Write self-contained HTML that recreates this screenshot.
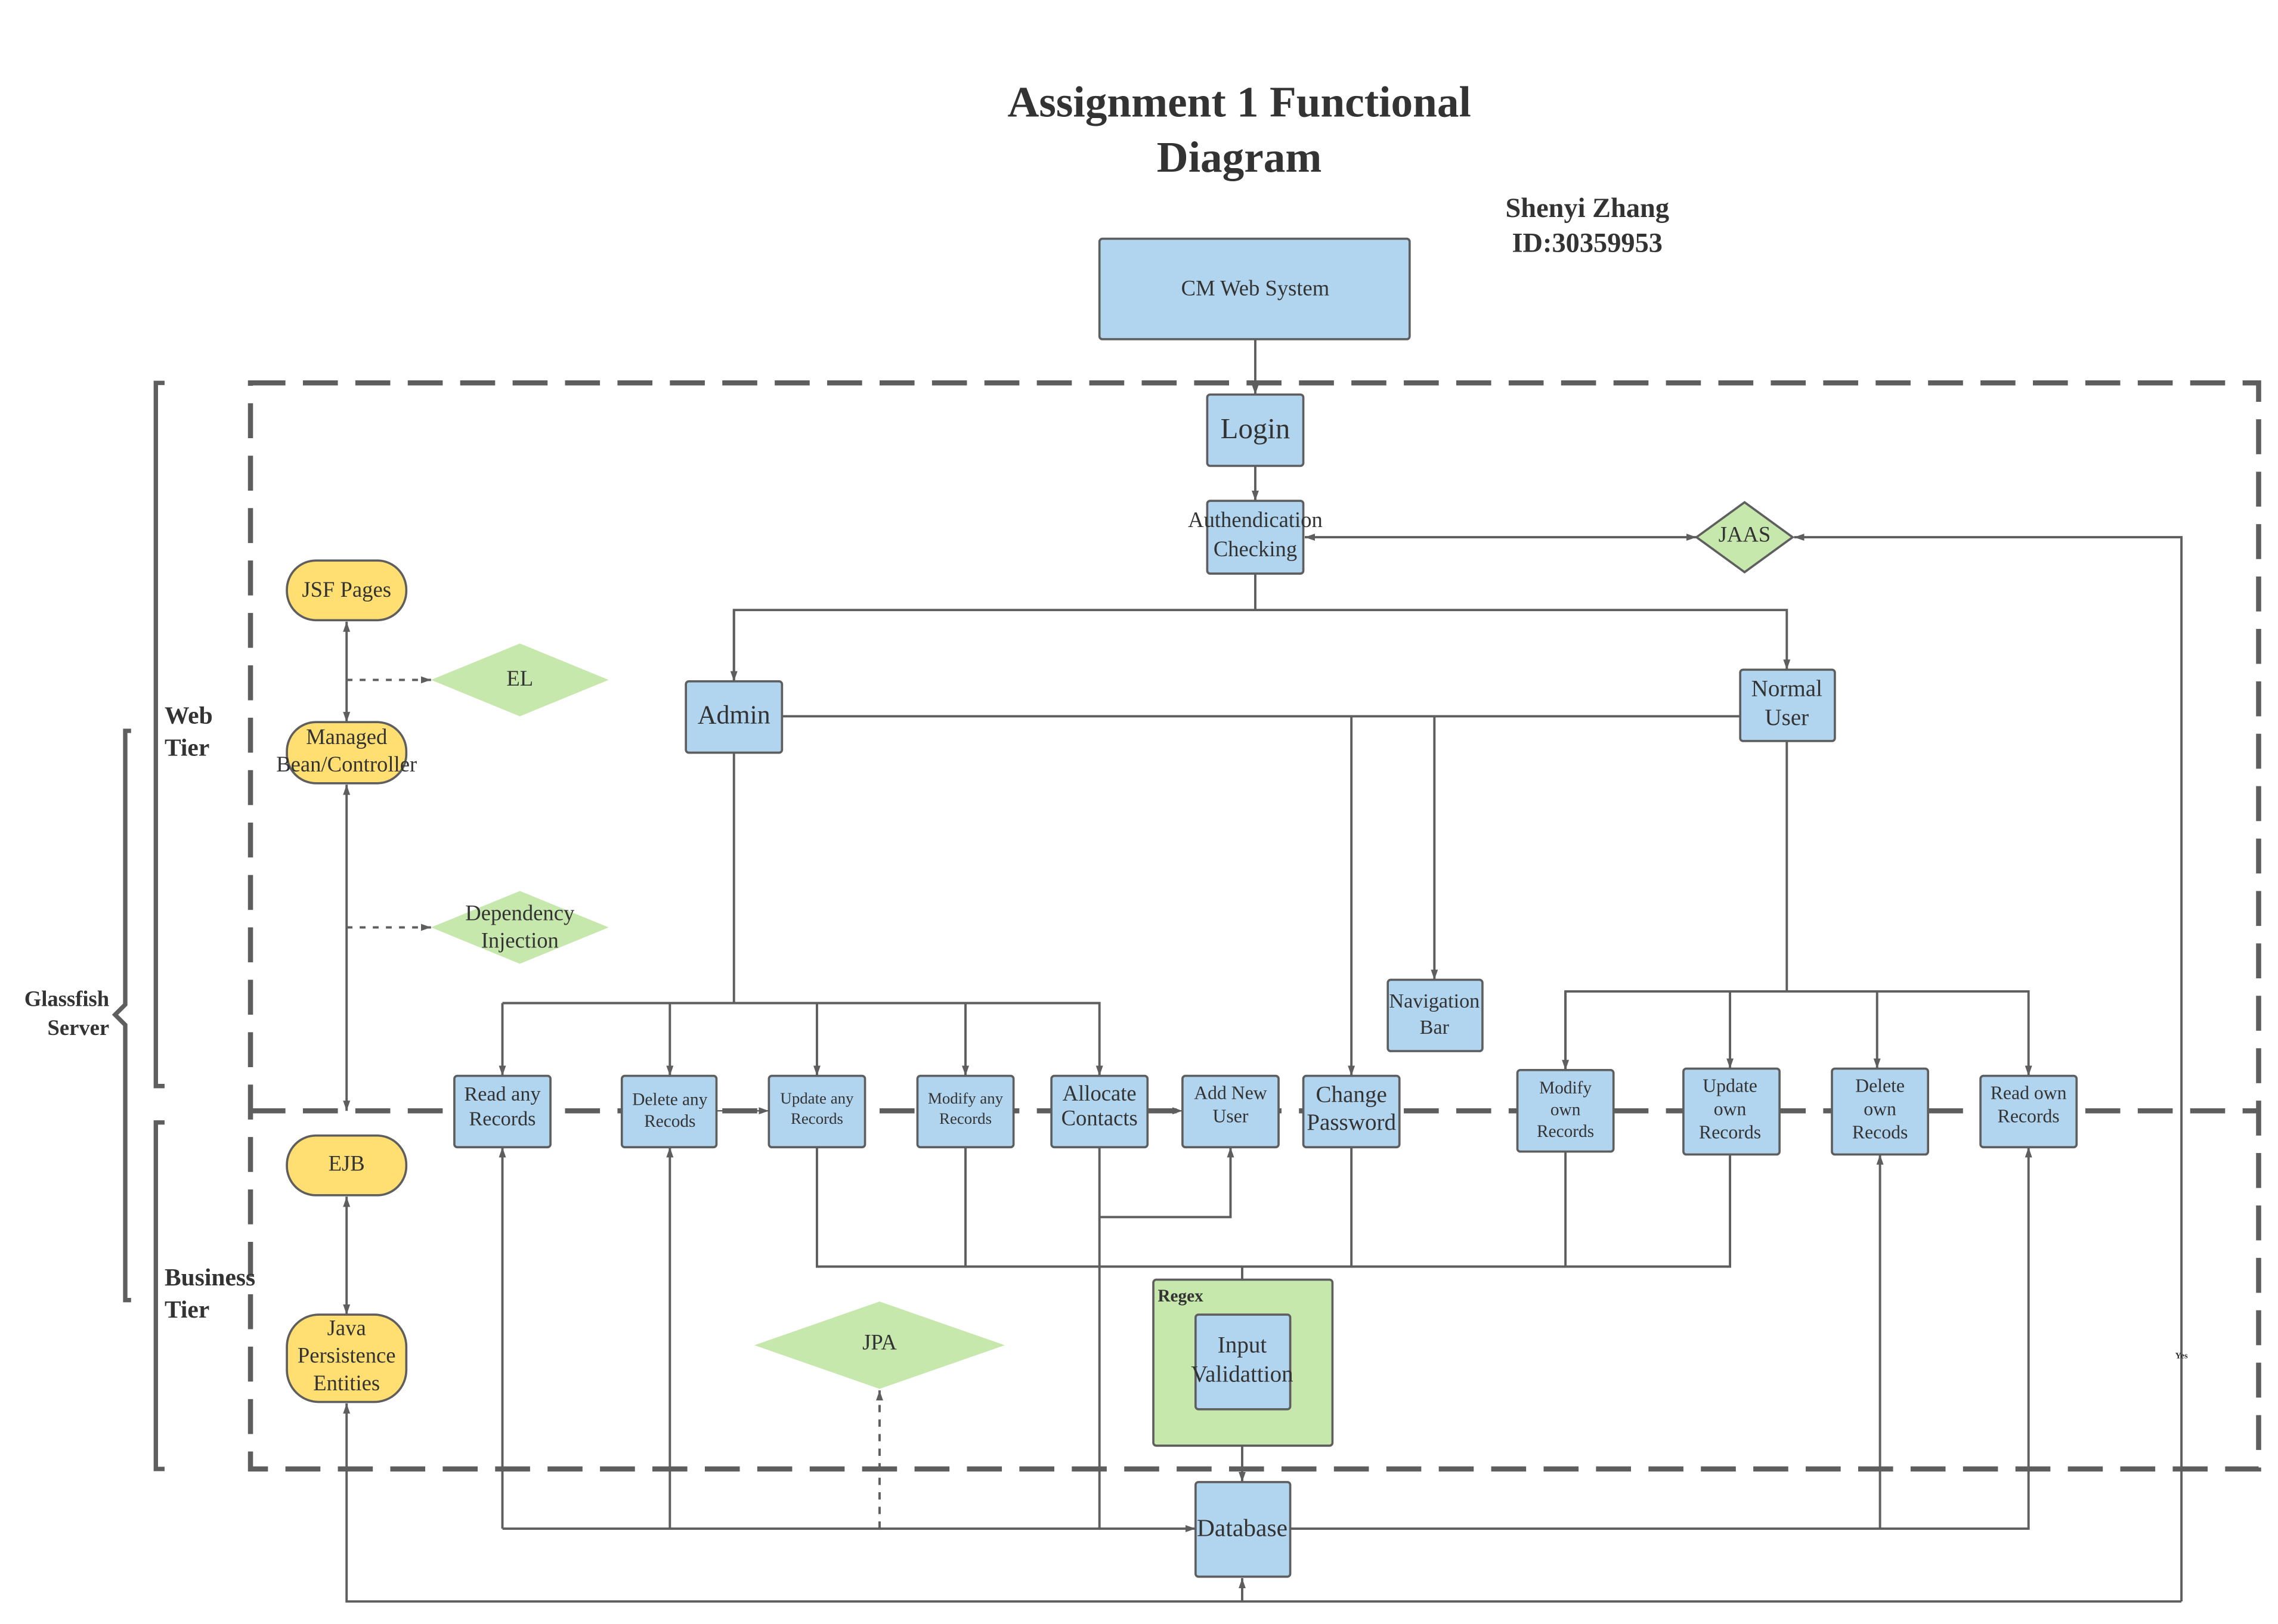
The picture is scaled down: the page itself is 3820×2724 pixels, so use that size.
<!DOCTYPE html>
<html><head><meta charset="utf-8"><style>
html,body{margin:0;padding:0;background:#fff;}
svg{display:block;}
text{font-family:"Liberation Serif",serif;fill:#333;}
</style></head><body>
<svg width="3820" height="2724" viewBox="0 0 1564.3 1115.5" xmlns="http://www.w3.org/2000/svg">
<defs>
<marker id="a" viewBox="0 0 10 10" refX="10" refY="5" markerWidth="7" markerHeight="7" orient="auto-start-reverse" markerUnits="userSpaceOnUse"><path d="M0,1.5 L10,5 L0,8.5 z" fill="#5e5e5e"/></marker>
</defs>
<rect width="1564.3" height="1115.5" fill="#fff"/>
<!-- Title -->
<text x="851" y="80" font-size="30" font-weight="bold" text-anchor="middle">Assignment 1 Functional</text>
<text x="851" y="118" font-size="30" font-weight="bold" text-anchor="middle">Diagram</text>
<text x="1090" y="149" font-size="19" font-weight="bold" text-anchor="middle">Shenyi Zhang</text>
<text x="1090" y="173" font-size="19" font-weight="bold" text-anchor="middle">ID:30359953</text>

<!-- dashed tiers -->
<g fill="none" stroke="#5e5e5e" stroke-width="3.5" stroke-dasharray="24,12">
<path d="M172,263 H1551 V1009 H172 Z"/>
<path d="M172,763 H1551"/>
</g>
<!-- brackets -->
<g fill="none" stroke="#5e5e5e" stroke-width="3">
<path d="M113,263 H107 V746 H113"/>
<path d="M113,771 H107 V1009 H113"/>
<path d="M90,502 H86 V690 L79,697 L86,704 V893 H90"/>
</g>
<text x="113" y="497" font-size="17" font-weight="bold">Web</text>
<text x="113" y="519" font-size="17" font-weight="bold">Tier</text>
<text x="113" y="883" font-size="17" font-weight="bold">Business</text>
<text x="113" y="905" font-size="17" font-weight="bold">Tier</text>
<text x="75" y="691" font-size="15" font-weight="bold" text-anchor="end">Glassfish</text>
<text x="75" y="711" font-size="15" font-weight="bold" text-anchor="end">Server</text>

<!-- connectors -->
<g fill="none" stroke="#5e5e5e" stroke-width="1.6">
<path d="M862,233 V271" marker-end="url(#a)"/>
<path d="M862,320 V344" marker-end="url(#a)"/>
<path d="M896,369 H1165" marker-start="url(#a)" marker-end="url(#a)"/>
<path d="M1498,1100 V369 H1232" marker-end="url(#a)"/>
<path d="M1498,1100 H238 V964" marker-end="url(#a)"/>
<path d="M853,1100 V1084" marker-end="url(#a)"/>
<path d="M862,394 V419"/>
<path d="M504,468 V419 H1227 V460" marker-end="url(#a)"/>
<path d="M504,419 V468" marker-end="url(#a)"/>
<path d="M537,492 H1195"/>
<path d="M928,492 V739" marker-end="url(#a)"/>
<path d="M985,492 V673" marker-end="url(#a)"/>
<path d="M504,517 V689"/>
<path d="M345,689 H755 V739" marker-end="url(#a)"/>
<path d="M345,689 V739" marker-end="url(#a)"/>
<path d="M460,689 V739" marker-end="url(#a)"/>
<path d="M561,689 V739" marker-end="url(#a)"/>
<path d="M663,689 V739" marker-end="url(#a)"/>
<path d="M1227,509 V681"/>
<path d="M1075,735 V681 H1393 V739" marker-end="url(#a)"/>
<path d="M1075,681 V735" marker-end="url(#a)"/>
<path d="M1188,681 V734" marker-end="url(#a)"/>
<path d="M1289,681 V734" marker-end="url(#a)"/>
<path d="M492,763 H528" marker-end="url(#a)" stroke-width="1"/>
<path d="M788,763 H812" marker-end="url(#a)" stroke-width="1"/>
<path d="M561,788 V870 H1188 V793"/>
<path d="M663,788 V870"/>
<path d="M928,788 V870"/>
<path d="M1075,791 V870"/>
<path d="M853,870 V903" marker-end="url(#a)"/>
<path d="M755,788 V1050"/>
<path d="M755,836 H845 V788" marker-end="url(#a)"/>
<path d="M853,968 V1018" marker-end="url(#a)"/>
<path d="M345,1050 H821" marker-end="url(#a)"/>
<path d="M345,1050 V788" marker-end="url(#a)"/>
<path d="M460,1050 V788" marker-end="url(#a)"/>
<path d="M886,1050 H1393 V788" marker-end="url(#a)"/>
<path d="M1291,1050 V793" marker-end="url(#a)"/>
<path d="M604,1050 V955" stroke-dasharray="5,5" marker-end="url(#a)"/>
<path d="M238,427 V496" marker-start="url(#a)" marker-end="url(#a)"/>
<path d="M238,539 V763" marker-start="url(#a)" marker-end="url(#a)"/>
<path d="M238,822 V903" marker-start="url(#a)" marker-end="url(#a)"/>
<path d="M238,467 H296" stroke-dasharray="4,5" marker-end="url(#a)"/>
<path d="M238,637 H296" stroke-dasharray="4,5" marker-end="url(#a)"/>
</g>
<text x="1498" y="933" font-size="6" font-weight="bold" text-anchor="middle">Yes</text>

<!-- diamonds -->
<path d="M1198,345 L1231,369 L1198,393 L1165,369 Z" fill="#c7e8ac" stroke="#5e5e5e" stroke-width="1.5"/>
<text x="1198" y="372" font-size="15" text-anchor="middle">JAAS</text>
<path d="M357,442 L418,467 L357,492 L296,467 Z" fill="#c7e8ac"/>
<text x="357" y="471" font-size="15" text-anchor="middle">EL</text>
<path d="M357,612 L418,637 L357,662 L296,637 Z" fill="#c7e8ac"/>
<text x="357" y="632" font-size="15" text-anchor="middle">Dependency</text>
<text x="357" y="651" font-size="15" text-anchor="middle">Injection</text>
<path d="M604,894 L690,924 L604,954 L518,924 Z" fill="#c7e8ac"/>
<text x="604" y="927" font-size="15" text-anchor="middle">JPA</text>

<!-- Regex container -->
<rect x="792" y="879" width="123" height="114" rx="2" fill="#c7e8ac" stroke="#5e5e5e" stroke-width="1.5"/>
<text x="795" y="894" font-size="12" font-weight="bold">Regex</text>

<!-- yellow pills -->
<g fill="#ffdf71" stroke="#5e5e5e" stroke-width="1.5">
<rect x="197" y="385" width="82" height="41" rx="20"/>
<rect x="197" y="496" width="82" height="42" rx="20"/>
<rect x="197" y="780" width="82" height="41" rx="20"/>
<rect x="197" y="903" width="82" height="60" rx="22"/>
</g>
<text x="238" y="410" font-size="15" text-anchor="middle">JSF Pages</text>
<text x="238" y="511" font-size="15" text-anchor="middle">Managed</text>
<text x="238" y="530" font-size="15" text-anchor="middle">Bean/Controller</text>
<text x="238" y="804" font-size="15" text-anchor="middle">EJB</text>
<text x="238" y="917" font-size="15" text-anchor="middle">Java</text>
<text x="238" y="936" font-size="15" text-anchor="middle">Persistence</text>
<text x="238" y="955" font-size="15" text-anchor="middle">Entities</text>

<!-- blue boxes -->
<g fill="#b1d5ef" stroke="#5e5e5e" stroke-width="1.5">
<rect x="755" y="164" width="213" height="69" rx="2"/>
<rect x="829" y="271" width="66" height="49" rx="2"/>
<rect x="829" y="344" width="66" height="50" rx="2"/>
<rect x="471" y="468" width="66" height="49" rx="2"/>
<rect x="1195" y="460" width="65" height="49" rx="2"/>
<rect x="953" y="673" width="65" height="49" rx="2"/>
<rect x="312" y="739" width="66" height="49" rx="2"/>
<rect x="427" y="739" width="65" height="49" rx="2"/>
<rect x="528" y="739" width="66" height="49" rx="2"/>
<rect x="630" y="739" width="66" height="49" rx="2"/>
<rect x="722" y="739" width="66" height="49" rx="2"/>
<rect x="812" y="739" width="66" height="49" rx="2"/>
<rect x="895" y="739" width="66" height="49" rx="2"/>
<rect x="1042" y="735" width="66" height="56" rx="2"/>
<rect x="1156" y="734" width="66" height="59" rx="2"/>
<rect x="1258" y="734" width="66" height="59" rx="2"/>
<rect x="1360" y="739" width="66" height="49" rx="2"/>
<rect x="821" y="903" width="65" height="65" rx="2"/>
<rect x="821" y="1018" width="65" height="65" rx="2"/>
</g>
<g text-anchor="middle">
<text x="862" y="203" font-size="15">CM Web System</text>
<text x="862" y="301" font-size="20">Login</text>
<text x="862" y="362" font-size="15">Authendication</text>
<text x="862" y="382" font-size="15">Checking</text>
<text x="504" y="497" font-size="18">Admin</text>
<text x="1227" y="478" font-size="16">Normal</text>
<text x="1227" y="498" font-size="16">User</text>
<text x="985" y="692" font-size="14">Navigation</text>
<text x="985" y="710" font-size="14">Bar</text>
<text x="345" y="756" font-size="14">Read any</text>
<text x="345" y="773" font-size="14">Records</text>
<text x="460" y="759" font-size="12">Delete any</text>
<text x="460" y="774" font-size="12">Recods</text>
<text x="561" y="758" font-size="11">Update any</text>
<text x="561" y="772" font-size="11">Records</text>
<text x="663" y="758" font-size="11">Modify any</text>
<text x="663" y="772" font-size="11">Records</text>
<text x="755" y="756" font-size="15">Allocate</text>
<text x="755" y="773" font-size="15">Contacts</text>
<text x="845" y="755" font-size="13">Add New</text>
<text x="845" y="771" font-size="13">User</text>
<text x="928" y="757" font-size="16">Change</text>
<text x="928" y="776" font-size="16">Password</text>
<text x="1075" y="751" font-size="12">Modify</text>
<text x="1075" y="766" font-size="12">own</text>
<text x="1075" y="781" font-size="12">Records</text>
<text x="1188" y="750" font-size="13">Update</text>
<text x="1188" y="766" font-size="13">own</text>
<text x="1188" y="782" font-size="13">Records</text>
<text x="1291" y="750" font-size="13">Delete</text>
<text x="1291" y="766" font-size="13">own</text>
<text x="1291" y="782" font-size="13">Recods</text>
<text x="1393" y="755" font-size="13">Read own</text>
<text x="1393" y="771" font-size="13">Records</text>
<text x="853" y="929" font-size="16">Input</text>
<text x="853" y="949" font-size="16">Validattion</text>
<text x="853" y="1055" font-size="17">Database</text>
</g>
</svg>
</body></html>
